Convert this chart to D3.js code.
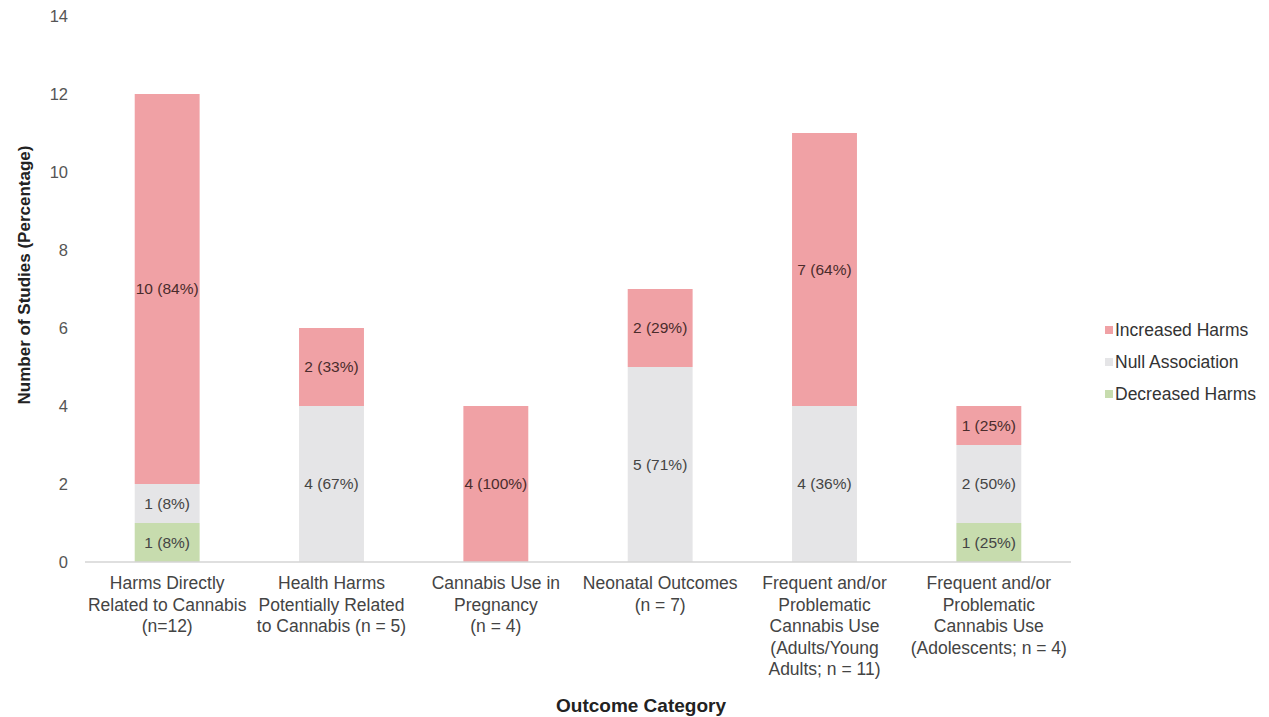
<!DOCTYPE html>
<html>
<head>
<meta charset="utf-8">
<script src="https://cdn.jsdelivr.net/npm/d3@7"></script>
<style>
  body { margin: 0; background: #fff; }
  svg { font-family: "Liberation Sans", Arial, sans-serif; }
</style>
</head>
<body>
<svg id="svg" width="1269" height="717"></svg>
<script>
// categories, one label line per array entry
const categories = [
    ['Harms Directly', 'Related to Cannabis', '(n=12)'],
    ['Health Harms', 'Potentially Related', 'to Cannabis (n = 5)'],
    ['Cannabis Use in', 'Pregnancy', '(n = 4)'],
    ['Neonatal Outcomes', '(n = 7)'],
    ['Frequent and/or', 'Problematic', 'Cannabis Use', '(Adults/Young', 'Adults; n = 11)'],
    ['Frequent and/or', 'Problematic', 'Cannabis Use', '(Adolescents; n = 4)']
];
const seriesNames = ['Decreased Harms', 'Null Association', 'Increased Harms'];
const decreased = [1, 0, 0, 0, 0, 1];
const nullAssoc = [1, 4, 0, 5, 4, 2];
const increased = [10, 2, 4, 2, 7, 1];
const decreasedPct = ['8%', '', '', '', '', '25%'];
const nullPct = ['8%', '67%', '', '71%', '36%', '50%'];
const increasedPct = ['84%', '33%', '100%', '29%', '64%', '25%'];
const yTicks = [0, 2, 4, 6, 8, 10, 12, 14];

const colors = {
    'Decreased Harms': '#c7dcae',
    'Null Association': '#e5e5e7',
    'Increased Harms': '#f0a1a5'
};

const svg = d3.select('#svg');
const plotLeft = 85, plotRight = 1071, plotTop = 16, plotBottom = 562;

const x = d3.scaleBand()
    .domain(d3.range(categories.length))
    .range([plotLeft, plotRight])
    .paddingInner(0.605)
    .paddingOuter(0.3025);

const y = d3.scaleLinear().domain([0, 14]).range([plotBottom, plotTop]);

// build table for the stack
const rows = categories.map((c, i) => ({
    idx: i,
    'Decreased Harms': decreased[i],
    'Null Association': nullAssoc[i],
    'Increased Harms': increased[i]
}));
const pctBy = {
    'Decreased Harms': decreasedPct,
    'Null Association': nullPct,
    'Increased Harms': increasedPct
};

const stacked = d3.stack().keys(seriesNames)(rows);

stacked.forEach(layer => {
    const g = svg.append('g');
    g.selectAll('rect')
        .data(layer)
        .join('rect')
        .attr('x', d => x(d.data.idx))
        .attr('y', d => y(d[1]))
        .attr('width', x.bandwidth())
        .attr('height', d => y(d[0]) - y(d[1]))
        .attr('fill', colors[layer.key]);

    g.selectAll('text')
        .data(layer.filter(d => d[1] - d[0] > 0))
        .join('text')
        .attr('x', d => x(d.data.idx) + x.bandwidth() / 2)
        .attr('y', d => y((d[0] + d[1]) / 2))
        .attr('dy', '0.35em')
        .attr('text-anchor', 'middle')
        .attr('font-size', 15.5)
        .attr('fill', layer.key === 'Increased Harms' ? '#4a2c2c' : '#444')
        .text(d => (d[1] - d[0]) + ' (' + pctBy[layer.key][d.data.idx] + ')');
});

// baseline
svg.append('line')
    .attr('x1', plotLeft).attr('x2', plotRight)
    .attr('y1', y(0)).attr('y2', y(0))
    .attr('stroke', '#d4d4d4')
    .attr('stroke-width', 1.5);

// y axis (labels only)
const yAxis = d3.axisLeft(y).tickValues(yTicks).tickSize(0).tickPadding(0);
svg.append('g')
    .attr('transform', 'translate(68,0)')
    .call(yAxis)
    .call(g => g.select('.domain').remove())
    .call(g => g.selectAll('text')
        .attr('font-size', 16.5)
        .attr('font-family', '"Liberation Sans", Arial, sans-serif')
        .attr('fill', '#555'));

// x labels
const xLab = svg.append('g');
categories.forEach((lines, i) => {
    const t = xLab.append('text')
        .attr('x', x(i) + x.bandwidth() / 2)
        .attr('y', 589)
        .attr('text-anchor', 'middle')
        .attr('font-size', 17.5)
        .attr('fill', '#444');
    lines.forEach((ln, k) => {
        t.append('tspan')
            .attr('x', x(i) + x.bandwidth() / 2)
            .attr('dy', k === 0 ? 0 : 21.5)
            .text(ln);
    });
});

// axis titles
svg.append('text')
    .attr('x', 641).attr('y', 712)
    .attr('text-anchor', 'middle')
    .attr('font-size', 19)
    .attr('font-weight', 'bold')
    .attr('fill', '#222')
    .text('Outcome Category');

svg.append('text')
    .attr('transform', 'translate(30,275) rotate(-90)')
    .attr('text-anchor', 'middle')
    .attr('font-size', 17)
    .attr('font-weight', 'bold')
    .attr('fill', '#222')
    .text('Number of Studies (Percentage)');

// legend (top to bottom: increased, null, decreased)
const legendOrder = seriesNames.slice().reverse();
const legend = svg.append('g').attr('transform', 'translate(1105,330)');
legendOrder.forEach((name, i) => {
    const row = legend.append('g').attr('transform', 'translate(0,' + (i * 32) + ')');
    row.append('rect')
        .attr('x', 0).attr('y', -4)
        .attr('width', 8).attr('height', 8)
        .attr('fill', colors[name]);
    row.append('text')
        .attr('x', 10).attr('y', 0)
        .attr('dy', '0.35em')
        .attr('font-size', 17.5)
        .attr('fill', '#333')
        .text(name);
});
</script>
</body>
</html>
